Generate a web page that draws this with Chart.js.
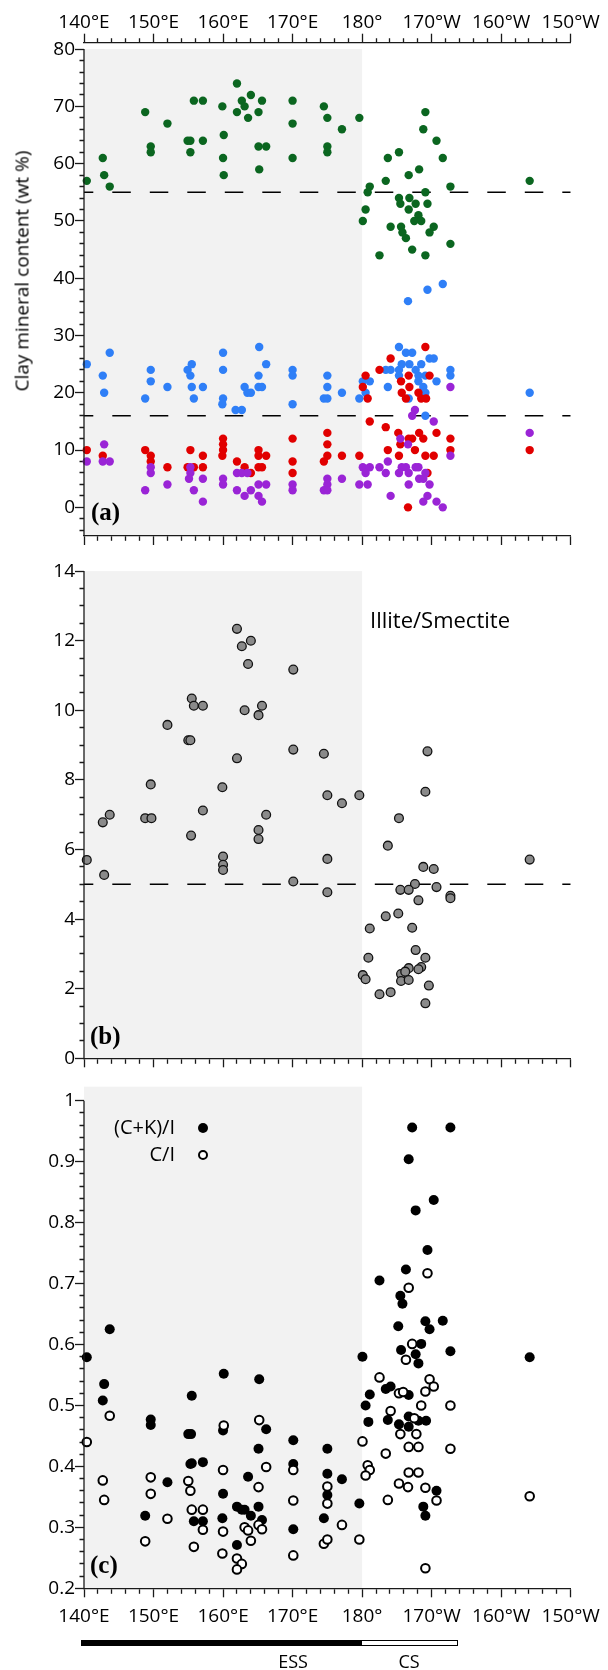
<!DOCTYPE html>
<html>
<head>
<meta charset="utf-8">
<script src="https://cdn.jsdelivr.net/npm/chart.js@4.4.1/dist/chart.umd.min.js"></script>
<style>
  body { margin: 0; background: #fff; }
  #page { position: relative; width: 608px; height: 1670px; overflow: hidden; font-family: "Open Sans", sans-serif; color: #000; }
  .panel { position: absolute; left: 0; width: 608px; }
  .txt { position: absolute; white-space: nowrap; line-height: 1; }
  .tag { font-family: "Liberation Serif", serif; font-weight: bold; font-size: 25px; }
  .dot { position: absolute; width: 10px; height: 10px; border-radius: 50%; box-sizing: border-box; }
</style>
</head>
<body>
<div id="page">
  <div class="panel" style="top:0;height:548px"><canvas id="chartA" width="608" height="548"></canvas></div>
  <div class="panel" style="top:545px;height:525px"><canvas id="chartB" width="608" height="525"></canvas></div>
  <div class="panel" style="top:1070px;height:600px"><canvas id="chartC" width="608" height="600"></canvas></div>

  <div class="txt" style="left:22px;top:271px;font-size:19px;transform:translate(-50%,-50%) rotate(-90deg)">Clay mineral content (wt %)</div>
  <div class="txt tag" style="left:91px;top:499px">(a)</div>
  <div class="txt tag" style="left:90px;top:1023px">(b)</div>
  <div class="txt tag" style="left:90px;top:1552px">(c)</div>
  <div class="txt" style="left:370px;top:608px;font-size:22px">Illite/Smectite</div>

  <div class="txt" style="right:433px;top:1117px;font-size:20px">(C+K)/I</div>
  <div class="txt" style="right:433px;top:1144px;font-size:20px">C/I</div>
  <div class="dot" style="left:198px;top:1123px;background:#000"></div>
  <div class="dot" style="left:198px;top:1150px;background:#fff;border:2px solid #000"></div>

  <div style="position:absolute;left:81px;top:1640px;width:281px;height:6px;background:#000"></div>
  <div style="position:absolute;left:361px;top:1640px;width:97px;height:6px;background:#fff;border:1px solid #000;box-sizing:border-box"></div>
  <div class="txt" style="left:293px;top:1652px;font-size:18px;transform:translateX(-50%)">ESS</div>
  <div class="txt" style="left:409px;top:1652px;font-size:18px;transform:translateX(-50%)">CS</div>
</div>

<script>
// longitude in degrees east (190 = 170°W)
const illite = [
  [140.4,57],[142.7,61],[142.9,58],[143.7,56],[148.8,69],[149.6,63],[149.6,62],[152.0,67],
  [154.9,64],[155.3,64],[155.3,62],[155.8,71],[157.1,71],[157.1,64],[159.9,70],[160.1,65],
  [160.0,61],[160.1,58],[162.0,74],[162.0,69],[162.7,71],[163.1,70],[163.6,68],[164.0,72],
  [165.1,69],[165.6,71],[165.1,63],[166.2,63],[165.2,59],[170.0,71],[170.0,67],[170.0,61],
  [174.5,70],[175.0,68],[175.0,63],[175.0,62],[177.1,66],[179.6,68],
  [189.1,69],[188.8,66],[190.7,64],[185.3,62],[183.7,61],[191.6,61],[188.2,59],[186.7,58],
  [183.4,57],[181.1,56],[180.8,55],[189.1,55],[192.7,56],[204.1,57],[185.3,54],[186.8,54],
  [185.5,53],[187.7,53],[189.4,53],[186.7,52],[180.5,52],[188.1,51],[180.1,50],[187.5,50],
  [188.5,50],[184.1,49],[185.6,49],[190.3,49],[185.8,48],[189.7,48],[186.3,47],[192.7,46],
  [187.2,45],[182.5,44],[189.1,44]
];
const chlorite = [
  [140.4,25],[142.7,23],[142.9,20],[143.7,27],[148.8,19],[149.6,24],[149.6,22],[152.0,21],
  [154.9,24],[155.5,25],[155.3,23],[155.5,21],[155.8,19],[157.1,21],[160.0,27],[160.0,24],
  [160.0,19],[159.9,18],[161.8,17],[162.7,17],[163.1,21],[163.5,20],[164.0,20],[165.2,28],
  [165.1,23],[165.1,21],[165.6,21],[166.2,25],[170.0,24],[170.0,23],[170.0,18],[175.0,23],
  [175.0,21],[174.5,19],[175.0,19],[177.1,20],[179.6,19],
  [180.1,22],[181.1,22],[180.5,20],[185.3,28],[186.3,27],[187.2,27],[189.7,26],[190.3,26],
  [185.7,25],[186.8,25],[188.5,25],[183.4,24],[184.1,24],[185.3,24],[187.7,24],[185.3,23],
  [188.1,23],[189.1,23],[188.1,22],[190.7,22],[183.7,21],[188.8,21],[189.1,20],[186.7,19],
  [189.1,16],[192.7,24],[192.7,23],[204.1,20],[191.6,39],[189.4,38],[186.6,36]
];
const smectite = [
  [140.4,10],[142.7,9],[148.8,10],[149.6,9],[149.6,8],[152.0,7],[155.3,10],[154.9,7],
  [155.8,7],[157.1,9],[157.1,7],[160.0,12],[160.0,11],[160.0,10],[159.9,9],[162.0,8],
  [163.1,7],[164.0,6],[165.1,10],[165.1,9],[166.2,9],[165.1,7],[165.6,7],[170.0,12],
  [170.0,8],[170.0,6],[175.0,13],[175.0,11],[175.0,9],[174.5,8],[177.1,9],[179.6,9],
  [180.5,23],[180.1,21],[180.8,19],[182.5,24],[184.1,26],[189.1,28],[186.7,23],[189.7,23],
  [185.6,22],[186.8,21],[185.7,20],[188.1,20],[186.3,19],[188.5,19],[189.2,19],[181.1,15],
  [183.4,14],[185.2,13],[188.2,13],[190.7,13],[186.7,12],[187.2,12],[188.8,12],[192.7,12],
  [185.5,11],[183.7,10],[187.6,10],[192.7,10],[185.3,9],[189.1,9],[190.3,9],[189.4,6],
  [186.6,0],[204.1,10]
];
const kaolinite = [
  [140.4,8],[142.9,11],[142.7,8],[143.7,8],[148.8,3],[149.6,7],[149.6,6],[152.0,4],
  [155.3,7],[155.3,6],[155.1,5],[155.8,3],[157.1,5],[157.1,1],[160.0,5],[160.0,4],
  [162.0,6],[162.7,6],[163.5,6],[162.0,3],[163.1,2],[164.0,3],[165.1,4],[166.2,4],
  [165.1,2],[165.6,1],[170.0,4],[170.0,3],[175.0,5],[175.0,4],[174.5,3],[175.0,3],
  [177.1,5],[179.6,4],
  [180.8,4],[180.1,7],[181.1,7],[180.5,6],[182.5,7],[183.7,8],[183.4,6],[184.1,2],
  [185.7,7],[186.3,7],[187.7,7],[188.1,7],[185.3,6],[186.7,6],[189.1,6],[188.2,5],
  [188.8,5],[186.7,4],[189.7,4],[189.4,2],[188.8,1],[190.7,1],[191.6,0],[185.5,12],
  [186.6,11],[187.6,17],[187.2,16],[190.3,15],[192.7,21],[192.7,9],[204.1,13]
];
const illiteSmectite = [
  [140.4,5.70],[142.7,6.78],[143.7,7.00],[142.9,5.27],[148.8,6.90],[149.7,6.90],[149.6,7.87],
  [152.0,9.58],[155.0,9.14],[155.3,9.14],[155.5,10.34],[155.8,10.13],[157.1,10.13],[157.1,7.12],
  [155.4,6.40],[159.9,7.79],[160.0,5.80],[160.0,5.56],[160.0,5.41],[162.0,12.34],[162.7,11.84],
  [164.0,12.00],[163.6,11.33],[162.0,8.62],[163.1,10.00],[165.6,10.13],[165.1,9.86],[166.2,7.00],
  [165.1,6.56],[165.1,6.30],[170.1,11.17],[170.1,8.87],[170.1,5.08],[174.5,8.75],[175.0,7.56],
  [175.0,5.73],[175.0,4.77],[177.1,7.33],[179.6,7.56],
  [189.4,8.82],[189.1,7.66],[185.3,6.90],[183.7,6.11],[204.1,5.71],[188.8,5.50],[190.3,5.44],
  [187.6,5.01],[190.7,4.92],[185.5,4.84],[186.7,4.84],[188.1,4.54],[192.7,4.67],[192.7,4.60],
  [185.2,4.16],[183.4,4.08],[181.1,3.73],[187.2,3.75],[187.7,3.11],[180.9,2.89],[189.1,2.89],
  [188.5,2.62],[188.1,2.56],[186.7,2.59],[185.6,2.42],[186.2,2.49],[185.6,2.22],[186.7,2.25],
  [180.1,2.39],[180.5,2.27],[189.6,2.09],[182.5,1.84],[184.1,1.90],[189.1,1.58]
];
const chlKaoIllite = [
  [140.4,0.579],[143.7,0.625],[142.9,0.535],[142.7,0.508],[149.6,0.477],[149.6,0.468],[148.8,0.319],
  [152.0,0.374],[155.5,0.516],[155.0,0.453],[155.4,0.453],[155.5,0.405],[155.3,0.404],[157.1,0.407],
  [155.8,0.310],[157.1,0.310],[160.1,0.552],[160.0,0.459],[160.0,0.355],[159.9,0.315],[162.0,0.271],
  [162.0,0.334],[162.7,0.329],[163.1,0.329],[163.6,0.383],[164.0,0.319],[165.2,0.543],[166.2,0.461],
  [165.1,0.429],[165.1,0.334],[165.6,0.312],[170.1,0.443],[170.1,0.404],[170.1,0.297],[175.0,0.429],
  [175.0,0.388],[175.0,0.353],[174.5,0.315],[177.1,0.379],[179.6,0.339],
  [187.2,0.956],[192.7,0.956],[186.7,0.904],[190.3,0.837],[187.7,0.820],[189.4,0.755],[186.3,0.723],
  [182.5,0.705],[185.5,0.680],[185.8,0.667],[185.2,0.630],[189.1,0.638],[189.7,0.625],[191.6,0.639],
  [185.6,0.591],[188.5,0.601],[187.7,0.584],[188.1,0.569],[192.7,0.589],[180.05,0.580],[204.1,0.579],
  [181.1,0.518],[183.4,0.527],[184.1,0.531],[186.7,0.517],[180.5,0.500],[180.9,0.473],[183.7,0.476],
  [185.3,0.469],[186.7,0.482],[186.7,0.465],[188.1,0.475],[189.2,0.475],[190.7,0.360],[188.8,0.334],
  [189.1,0.319]
];
const chlIllite = [
  [140.4,0.440],[143.7,0.483],[142.7,0.377],[142.9,0.345],[149.6,0.382],[149.6,0.355],[148.8,0.277],
  [152.0,0.314],[155.0,0.376],[155.3,0.360],[155.5,0.329],[157.1,0.329],[157.1,0.296],[155.8,0.268],
  [160.1,0.467],[160.0,0.394],[160.0,0.293],[159.9,0.257],[162.0,0.249],[162.7,0.240],[162.0,0.231],
  [163.1,0.300],[163.6,0.295],[164.0,0.278],[165.2,0.476],[166.2,0.399],[165.1,0.366],[165.1,0.304],
  [165.6,0.297],[170.1,0.394],[170.1,0.344],[170.1,0.254],[175.0,0.367],[175.0,0.339],[174.5,0.273],
  [175.0,0.280],[177.1,0.304],[179.6,0.280],
  [189.4,0.717],[186.7,0.693],[187.2,0.601],[186.3,0.575],[182.5,0.546],[189.7,0.543],[190.3,0.531],
  [189.1,0.523],[185.3,0.520],[185.9,0.522],[188.5,0.500],[192.7,0.500],[184.1,0.491],[187.5,0.479],
  [185.5,0.453],[187.8,0.453],[186.7,0.432],[188.1,0.432],[192.7,0.429],[180.05,0.441],[183.4,0.421],
  [180.8,0.402],[181.1,0.394],[180.5,0.385],[186.7,0.390],[188.1,0.390],[185.3,0.372],[186.6,0.366],
  [189.1,0.365],[190.7,0.344],[183.7,0.345],[189.1,0.233],[204.1,0.351]
];

// reference lines and the East Siberian Sea longitude band
const illiteLimit = 55, chloriteLimit = 16, isLimit = 5;
const essBand = [140, 180];

// axis ticks
const lonMajor = [140, 150, 160, 170, 180, 190, 200, 210];
const lonLabels = ['140°E', '150°E', '160°E', '170°E', '180°', '170°W', '160°W', '150°W'];

const tickFont = { family: 'Open Sans', size: 19 };
const ink = '#1a1a1a';

function steps(from, to, step) {
  let out = [];
  for (let i = 0; from + i * step <= to + 1e-9; i++) out.push(+(from + i * step).toFixed(4));
  return out;
}
let near = (v, m) => Math.abs(v / m - Math.round(v / m)) < 1e-6;

// shading band plus the left axis line (drawn only over the labelled range)
const bandPlugin = {
  id: 'band',
  beforeDraw(chart, args, opts) {
    let {ctx, scales: {x, y}} = chart;
    let l = x.getPixelForValue(essBand[0]), r = x.getPixelForValue(essBand[1]);
    let t = y.getPixelForValue(opts.top), b = y.getPixelForValue(opts.bottom);
    ctx.save();
    ctx.fillStyle = '#f2f2f2';
    ctx.fillRect(l, t, r - l, b - t);
    ctx.restore();
  },
  afterDraw(chart, args, opts) {
    let {ctx, scales: {x, y}} = chart;
    ctx.save();
    ctx.strokeStyle = ink;
    ctx.lineWidth = 1.3;
    ctx.beginPath();
    ctx.moveTo(x.left, y.getPixelForValue(opts.axisTop));
    ctx.lineTo(x.left, y.bottom);
    ctx.stroke();
    ctx.restore();
  }
};

function xAxis(position, showLabels, height, pad) {
  return {
    type: 'linear', position: position, min: 140, max: 210,
    afterFit: s => { s.height = height; },
    afterBuildTicks: s => { s.ticks = steps(140, 210, 2).map(v => ({ value: v })); },
    border: { display: true, color: ink, width: 1.3 },
    grid: {
      drawOnChartArea: false, tickLength: 9, tickColor: ink, tickWidth: 1.3,
      tickBorderDash: c => near(c.tick.value, 10) ? [] : (position == 'top' ? [0, 4.5, 4.5, 20] : [4.5, 20])
    },
    ticks: {
      display: showLabels, autoSkip: false, maxRotation: 0, padding: pad, color: '#000', font: tickFont,
      callback: v => { let i = lonMajor.indexOf(v); return i < 0 ? '' : lonLabels[i]; }
    }
  };
}

function yAxis(min, max, ticks, major, fmt) {
  return {
    min: min, max: max,
    afterFit: s => { s.width = 84; },
    afterBuildTicks: s => { s.ticks = ticks.map(v => ({ value: v })); },
    border: { display: false },
    grid: {
      drawOnChartArea: false, tickLength: 9, tickColor: ink, tickWidth: 1.3,
      tickBorderDash: c => near(c.tick.value, major) ? [] : [0, 4.5, 4.5, 20]
    },
    ticks: {
      autoSkip: false, padding: 0, color: '#000', font: tickFont,
      callback: v => near(v, major) ? fmt(v) : ''
    }
  };
}

function dots(data, color, r) {
  return { data: data.map(p => ({ x: p[0], y: p[1] })), backgroundColor: color, borderColor: color,
    borderWidth: 0, pointRadius: r, pointHoverRadius: r, clip: false };
}

function limitLine(value) {
  return { data: [{ x: 140, y: value }, { x: 210, y: value }], showLine: true, pointRadius: 0,
    borderColor: '#000', borderWidth: 1.4, borderDash: [18.5, 19], borderDashOffset: 9.2 };
}

function baseOptions(padTop, scales, band) {
  return {
    responsive: false, animation: false, events: [],
    layout: { padding: { top: padTop, left: 0, right: 37.3, bottom: 0 } },
    plugins: { legend: { display: false }, tooltip: { enabled: false }, band: band },
    scales: scales
  };
}

// (a) clay mineral percentages
new Chart('chartA', {
  type: 'scatter',
  data: { datasets: [
    dots(kaolinite, '#9a24d6', 4.2),
    dots(smectite, '#e10000', 4.2),
    dots(chlorite, '#2f7ff7', 4.2),
    dots(illite, '#0b6620', 4.2),
    limitLine(illiteLimit),
    limitLine(chloriteLimit)
  ] },
  options: baseOptions(0, {
    x: xAxis('bottom', false, 12, 0),
    xTop: xAxis('top', true, 42.7, 0),
    y: yAxis(-5, 81.12, steps(-4, 80, 2), 10, v => String(v))
  }, { top: 80, bottom: -5, axisTop: 80 }),
  plugins: [bandPlugin]
});

// (b) illite / smectite ratio
new Chart('chartB', {
  type: 'scatter',
  data: { datasets: [
    Object.assign(dots(illiteSmectite, '#8a8a8a', 4.4), { borderColor: '#111', borderWidth: 1.3 }),
    limitLine(isLimit)
  ] },
  options: baseOptions(26.1, {
    x: xAxis('bottom', false, 11.7, 0),
    y: yAxis(0, 14, steps(0, 14, 0.5), 2, v => String(v))
  }, { top: 14, bottom: 0, axisTop: 14 }),
  plugins: [bandPlugin]
});

// (c) (C+K)/I and C/I ratios
new Chart('chartC', {
  type: 'scatter',
  data: { datasets: [
    Object.assign(dots(chlIllite, '#fff', 4.3), { borderColor: '#000', borderWidth: 2 }),
    dots(chlKaoIllite, '#000', 5)
  ] },
  options: baseOptions(30.7, {
    x: xAxis('bottom', true, 81.7, 8),
    y: yAxis(0.2, 1, steps(0.2, 1, 0.02), 0.1, v => String(+v.toFixed(1)))
  }, { top: 1.023, bottom: 0.2, axisTop: 1 }),
  plugins: [bandPlugin]
});
</script>
</body>
</html>
